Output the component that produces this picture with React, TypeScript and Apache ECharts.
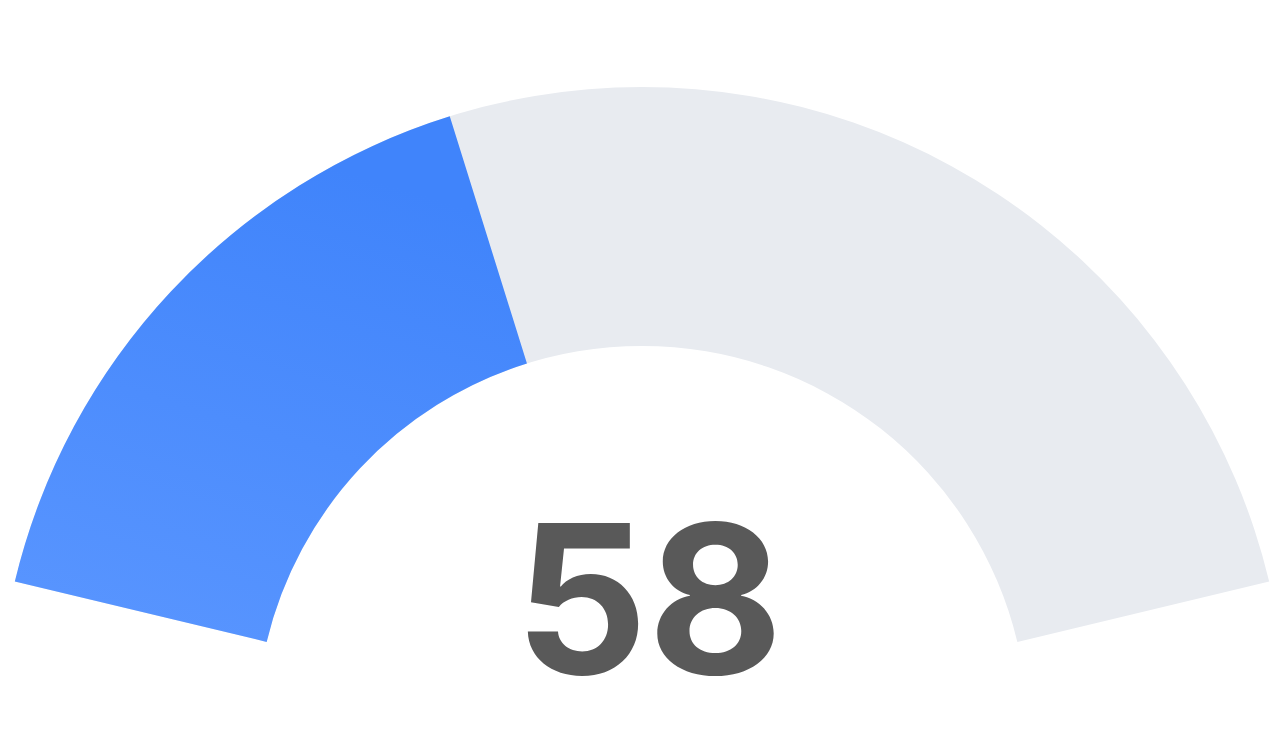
import { useEffect, useRef } from "react";
import * as echarts from "echarts";

const gaugeMin = 0;
const gaugeMax = 150;
const gaugeValues = [58];

export default function App() {
  const chartRef = useRef<HTMLDivElement>(null);

  useEffect(() => {
    document.body.style.margin = "0";
    if (!chartRef.current) return;
    const chart = echarts.init(chartRef.current, undefined, { renderer: "svg" });

    const option: echarts.EChartsOption = {
      animation: false,
      backgroundColor: "#ffffff",
      series: [
        {
          type: "gauge",
          center: [642, 732],
          radius: 645,
          startAngle: 166.5,
          endAngle: 13.5,
          min: gaugeMin,
          max: gaugeMax,
          progress: {
            show: true,
            width: 259,
            itemStyle: {
              color: new echarts.graphic.LinearGradient(0.3, 0, 0, 1, [
                { offset: 0, color: "#4084fb" },
                { offset: 1, color: "#5a96ff" },
              ]),
            },
          },
          axisLine: {
            lineStyle: {
              width: 259,
              color: [[1, "#e8ebf0"]],
            },
          },
          pointer: { show: false },
          axisTick: { show: false },
          splitLine: { show: false },
          axisLabel: { show: false },
          title: { show: false },
          detail: {
            valueAnimation: false,
            offsetCenter: [7, -134],
            fontFamily: "Inter",
            fontWeight: "bold",
            fontSize: 208,
            color: "#595959",
            formatter: "{value}",
          },
          data: gaugeValues.map((v) => ({ value: v })),
        },
      ],
    };

    chart.setOption(option);
    return () => {
      chart.dispose();
    };
  }, []);

  return <div ref={chartRef} style={{ width: 1288, height: 750 }} />;
}
